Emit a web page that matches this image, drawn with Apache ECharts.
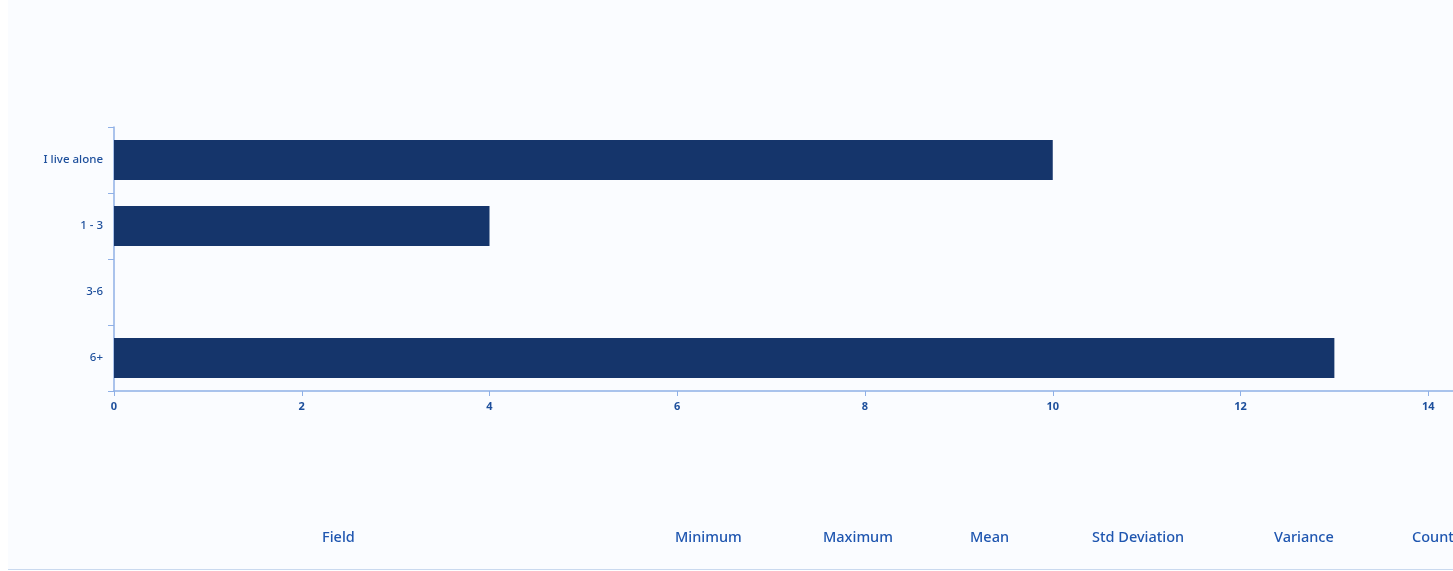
<!DOCTYPE html>
<html>
<head>
<meta charset="utf-8">
<script src="https://cdn.jsdelivr.net/npm/echarts@6/dist/echarts.min.js"></script>
<style>
  html, body { margin: 0; padding: 0; background: #ffffff; overflow: hidden; width: 1453px; height: 571px; }
  #chart { position: absolute; left: 0; top: 0; width: 1700px; height: 571px; }
</style>
</head>
<body>
<div id="chart"></div>
<script>
// Household size responses
const categories = ['I live alone', '1 - 3', '3-6', '6+'];
const counts = [10, 4, 0, 13];

// Summary table header
const tableHeaders = ['Field', 'Minimum', 'Maximum', 'Mean', 'Std Deviation', 'Variance', 'Count'];
const tableHeaderX = [322, 675, 823, 970, 1092, 1274, 1412];

const FONT = '"Noto Sans", Lato, sans-serif';
const labelColor = '#1d4f9c';
const axisColor = '#8fb0e6';

const chart = echarts.init(document.getElementById('chart'), null, { renderer: 'canvas' });

const headerGraphics = tableHeaders.map((t, i) => ({
  type: 'text',
  left: tableHeaderX[i],
  top: 530,
  z: 10,
  style: { text: t, fill: '#1f56b0', font: '500 14.5px ' + FONT }
}));

chart.setOption({
  animation: false,
  backgroundColor: 'transparent',
  graphic: [
    { type: 'rect', shape: { x: 8, y: 0, width: 1700, height: 569 }, style: { fill: '#fafcff' }, z: -10, silent: true },
    { type: 'line', shape: { x1: 8, y1: 569.5, x2: 1700, y2: 569.5 }, style: { stroke: '#c9d9ef', lineWidth: 1 }, z: -5, silent: true },
    ...headerGraphics
  ],
  grid: { left: 114, top: 127, width: 1502, height: 264, containLabel: false },
  xAxis: {
    type: 'value',
    min: 0,
    max: 16,
    interval: 2,
    axisLine: { show: true, lineStyle: { color: axisColor, width: 1.5 } },
    axisTick: { show: true, length: 5, lineStyle: { color: axisColor } },
    splitLine: { show: false },
    axisLabel: { color: labelColor, fontSize: 11, fontWeight: 'bold', fontFamily: FONT, margin: 10 }
  },
  yAxis: {
    type: 'category',
    data: categories,
    inverse: true,
    axisLine: { show: true, lineStyle: { color: axisColor, width: 1.5 } },
    axisTick: { show: true, length: 6, lineStyle: { color: axisColor } },
    axisLabel: { color: labelColor, fontSize: 11.5, fontWeight: 500, fontFamily: FONT, margin: 11 }
  },
  series: [{
    type: 'bar',
    data: counts,
    barWidth: 40,
    itemStyle: { color: '#15356b' }
  }]
});
</script>
</body>
</html>
